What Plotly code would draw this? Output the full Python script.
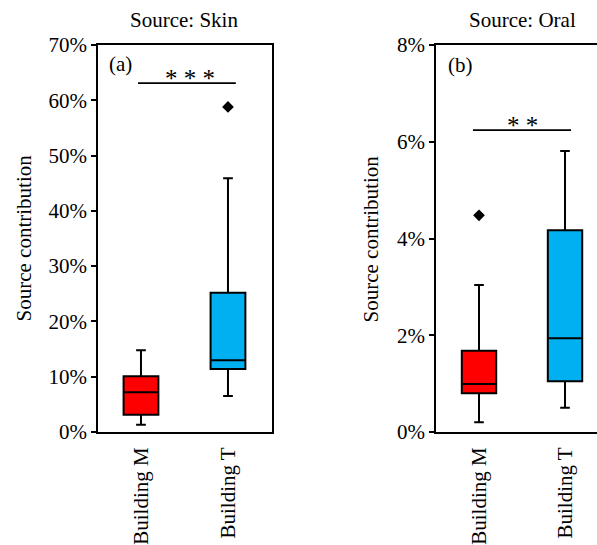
import plotly.graph_objects as go

categories = ["Building M", "Building T"]
colors = ["#FF0000", "#00B0F0"]

# Source: Skin (percent)
skin_q1 = [3.1, 11.4]
skin_median = [7.2, 13.0]
skin_q3 = [10.1, 25.2]
skin_low = [1.3, 6.5]
skin_high = [14.8, 45.9]
skin_out_cat = ["Building T"]
skin_out_val = [58.8]

# Source: Oral (percent)
oral_q1 = [0.80, 1.05]
oral_median = [0.99, 1.94]
oral_q3 = [1.68, 4.17]
oral_low = [0.20, 0.50]
oral_high = [3.04, 5.81]
oral_out_cat = ["Building M"]
oral_out_val = [4.48]

skin_ticks = [0, 10, 20, 30, 40, 50, 60, 70]
oral_ticks = [0, 2, 4, 6, 8]

FONT = "Liberation Serif"
FS = 21
W, H = 597, 545

fig = go.Figure()

def add_boxes(q1, med, q3, lo, hi, xa, ya):
    for i, c in enumerate(categories):
        fig.add_trace(go.Box(
            x=[c], q1=[q1[i]], median=[med[i]], q3=[q3[i]],
            lowerfence=[lo[i]], upperfence=[hi[i]],
            fillcolor=colors[i], line=dict(color="black", width=2),
            width=0.4, whiskerwidth=0.28, boxpoints=False,
            xaxis=xa, yaxis=ya, showlegend=False, hoverinfo="skip"))

add_boxes(skin_q1, skin_median, skin_q3, skin_low, skin_high, "x", "y")
add_boxes(oral_q1, oral_median, oral_q3, oral_low, oral_high, "x2", "y2")

fig.add_trace(go.Scatter(x=skin_out_cat, y=skin_out_val, mode="markers",
                         marker=dict(symbol="diamond", size=9, color="black"),
                         xaxis="x", yaxis="y", showlegend=False, hoverinfo="skip"))
fig.add_trace(go.Scatter(x=oral_out_cat, y=oral_out_val, mode="markers",
                         marker=dict(symbol="diamond", size=9, color="black"),
                         xaxis="x2", yaxis="y2", showlegend=False, hoverinfo="skip"))

tf = dict(family=FONT, size=FS, color="black")
sf = dict(family=FONT, size=25, color="black")

fig.update_layout(
    width=W, height=H, margin=dict(l=0, r=0, t=45, b=113),
    plot_bgcolor="white", paper_bgcolor="white",
    font=tf,
)
fig.update_layout(
    xaxis=dict(domain=[98 / W, 272 / W], range=[-0.494, 1.506], type="category",
               categoryorder="array", categoryarray=categories,
               showgrid=False, zeroline=False, showline=True, linecolor="black", linewidth=1.8,
               mirror=True, ticks="", tickangle=-90, ticklabelstandoff=5, anchor="y",
               tickfont=tf),
    yaxis=dict(range=[0, 70], tickmode="array", tickvals=skin_ticks,
               ticktext=[f"{v}%" for v in skin_ticks],
               showgrid=False, zeroline=False, showline=True, linecolor="black", linewidth=1.8,
               mirror=True, ticks="outside", ticklen=5, tickwidth=1.8, tickcolor="black",
               anchor="x", tickfont=tf),
    xaxis2=dict(domain=[436 / W, 1.0], range=[-0.5, 1.372], type="category",
                categoryorder="array", categoryarray=categories,
                showgrid=False, zeroline=False, showline=True, linecolor="black", linewidth=1.8,
                mirror=True, ticks="", tickangle=-90, ticklabelstandoff=5, anchor="y2",
                tickfont=tf),
    yaxis2=dict(range=[0, 8], tickmode="array", tickvals=oral_ticks,
                ticktext=[f"{v}%" for v in oral_ticks],
                showgrid=False, zeroline=False, showline=True, linecolor="black", linewidth=1.8,
                mirror=False, ticks="outside", ticklen=5, tickwidth=1.8, tickcolor="black",
                anchor="x2", tickfont=tf),
)

# significance lines
fig.add_shape(type="line", xref="x", yref="y", x0=-0.034, x1=1.09, y0=63.1, y1=63.1,
              line=dict(color="black", width=1.8))
fig.add_shape(type="line", xref="x2", yref="y2", x0=-0.07, x1=1.07, y0=6.24, y1=6.24,
              line=dict(color="black", width=1.8))

ann = [
    dict(text="Source: Skin", xref="x", yref="paper", x=0.5, y=1, yshift=11,
         xanchor="center", yanchor="bottom", showarrow=False, font=tf),
    dict(text="Source: Oral", xref="x2", yref="paper", x=0.5, y=1, yshift=11,
         xanchor="center", yanchor="bottom", showarrow=False, font=tf),
    dict(text="(a)", xref="x", yref="y", x=-0.39, y=66.5, xanchor="left", yanchor="middle",
         showarrow=False, font=tf),
    dict(text="(b)", xref="x2", yref="y2", x=-0.38, y=7.58, xanchor="left", yanchor="middle",
         showarrow=False, font=tf),
    dict(text="* * *", xref="x", yref="y", x=0.56, y=63.1, xanchor="center", yanchor="bottom",
         showarrow=False, font=sf, yshift=-11),
    dict(text="* *", xref="x2", yref="y2", x=0.5, y=6.24, xanchor="center", yanchor="bottom",
         showarrow=False, font=sf, yshift=-11),
    dict(text="Source contribution", xref="paper", yref="paper", x=23 / W, y=0.5,
         xanchor="center", yanchor="middle", textangle=-90, showarrow=False, font=tf),
    dict(text="Source contribution", xref="paper", yref="paper", x=370 / W, y=0.5,
         xanchor="center", yanchor="middle", textangle=-90, showarrow=False, font=tf),
]
fig.update_layout(annotations=ann)

fig.write_html("out.html")
